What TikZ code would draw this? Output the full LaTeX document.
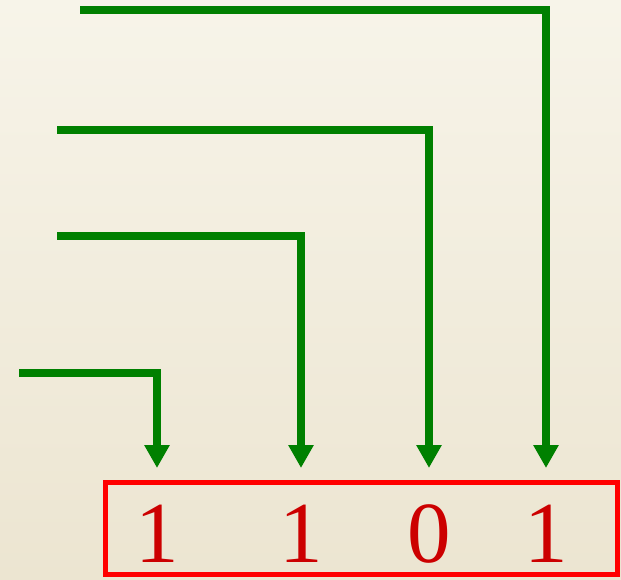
\documentclass[tikz,border=0pt]{standalone}
\usepackage{fontspec}
\setmainfont{Liberation Serif}
\usetikzlibrary{arrows.meta}
\definecolor{bgtop}{RGB}{247,244,233}
\definecolor{bgbot}{RGB}{236,229,209}
\definecolor{wiregreen}{RGB}{0,128,0}
\definecolor{digitred}{RGB}{204,0,0}
\tikzset{
  wire/.style={draw=wiregreen, line width=8pt, line join=miter,
    -{Triangle[width=24pt,length=23pt]}},
  bit/.style={text=digitred, font=\fontsize{87}{87}\selectfont, inner sep=0pt, anchor=base},
  register/.style={draw=red, line width=5pt, inner sep=0pt, minimum width=512pt, minimum height=92pt}
}
\begin{document}
\begin{tikzpicture}[x=1pt,y=-1pt]
  % paper background
  \shade[top color=bgtop, bottom color=bgbot] (0pt,0pt) rectangle (621pt,-579pt);
  \useasboundingbox (0pt,0pt) rectangle (621pt,-579pt);

  % register holding the bits
  \node[register] (reg) at (361.5,528.5) {};
  \node[bit] (d1) at (157,562) {1};
  \node[bit] (d2) at (301,562) {1};
  \node[bit] (d3) at (429,562) {0};
  \node[bit] (d4) at (546,562) {1};

  % wire entry points and arrow ends
  \coordinate (s1) at (19,373);
  \coordinate (s2) at (57,236);
  \coordinate (s3) at (57,130);
  \coordinate (s4) at (80,10);
  \coordinate (t1) at (d1 |- 0,468);
  \coordinate (t2) at (d2 |- 0,468);
  \coordinate (t3) at (d3 |- 0,468);
  \coordinate (t4) at (d4 |- 0,468);

  \draw[wire] (s1) -| (t1);
  \draw[wire] (s2) -| (t2);
  \draw[wire] (s3) -| (t3);
  \draw[wire] (s4) -| (t4);
\end{tikzpicture}
\end{document}
